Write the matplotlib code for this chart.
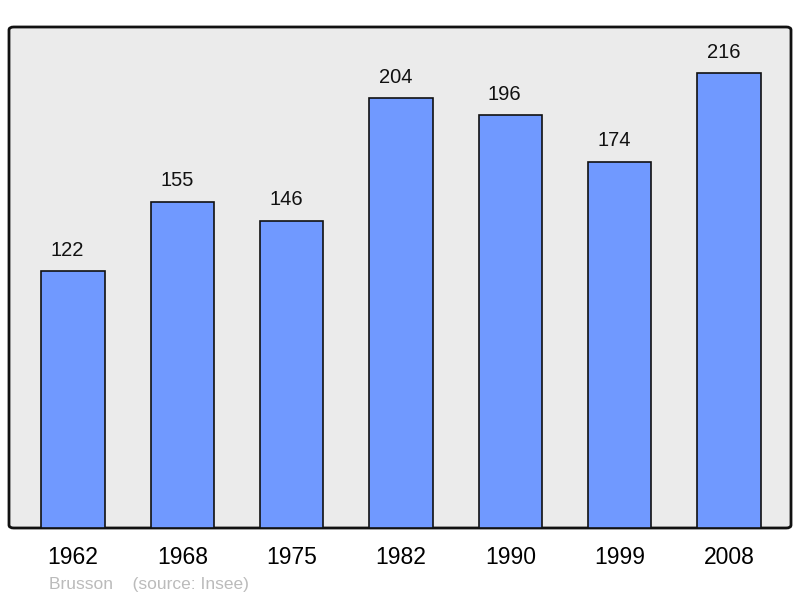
import matplotlib
matplotlib.use("Agg")
import matplotlib.pyplot as plt
from matplotlib.patches import FancyBboxPatch

years = ["1962", "1968", "1975", "1982", "1990", "1999", "2008"]
population = [122, 155, 146, 204, 196, 174, 216]

plt.rcParams['font.family'] = ['Liberation Sans', 'DejaVu Sans']

fig = plt.figure(figsize=(8.0, 5.98), dpi=100)
ax = fig.add_axes([9/800, 70/598, 782/800, 501/598])
ax.set_xlim(-0.585, 6.567)
ax.set_ylim(0, 237.9)
ax.set_facecolor('none')
for s in ax.spines.values():
    s.set_visible(False)

bg = FancyBboxPatch((0, 0), 1, 1, boxstyle="round,pad=0,rounding_size=0.006",
                    transform=ax.transAxes, facecolor='#ebebeb', edgecolor='#111111',
                    linewidth=2.0, zorder=0, clip_on=False)
ax.add_patch(bg)

x = list(range(len(years)))
ax.bar(x, population, width=0.578, color='#7099ff', edgecolor='#111111',
       linewidth=1.2, zorder=2)
for xi, v in zip(x, population):
    ax.annotate(str(v), (xi, v), xytext=(-4, 8), textcoords='offset points',
                ha='center', va='bottom', fontsize=14.5, color='#111111')

ax.set_xticks(x)
ax.set_xticklabels(years, fontsize=16.5)
ax.tick_params(axis='x', length=0, pad=13)
ax.set_yticks([])

fig.text(49/800, 1 - 584/598, "Brusson    (source: Insee)", fontsize=12.5,
         color='#bbbbbb', ha='left', va='center')

fig.savefig("out.png", dpi=100)
